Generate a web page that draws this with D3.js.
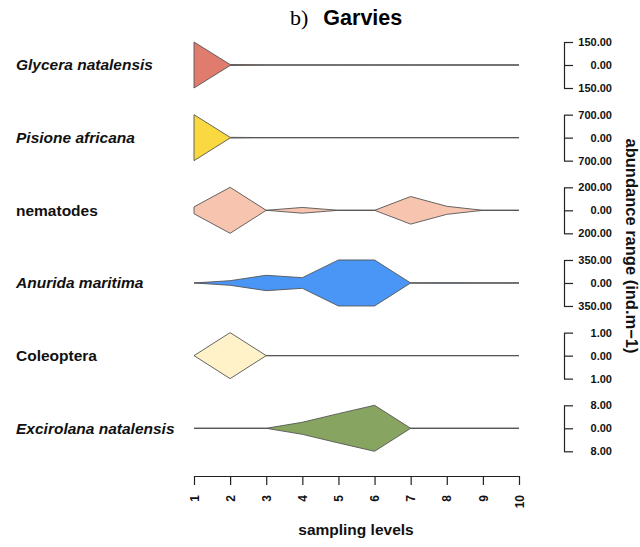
<!DOCTYPE html>
<html>
<head>
<meta charset="utf-8">
<script src="https://d3js.org/d3.v7.min.js"></script>
<style>
  body { margin: 0; background: #fff; }
  svg text { font-family: "Liberation Sans", Arial, sans-serif; }
</style>
</head>
<body>
<div id="chart"></div>
<script>
// species shown top to bottom
var species = ["Glycera natalensis", "Pisione africana", "nematodes",
               "Anurida maritima", "Coleoptera", "Excirolana natalensis"];
var italic = [true, true, false, true, false, true];
var levels = [1, 2, 3, 4, 5, 6, 7, 8, 9, 10];
// abundance (ind.m-1) at each sampling level
var glycera    = [150, 3, 0.6, 0, 0, 0, 0, 0, 0, 0];
var pisione    = [700, 10, 2, 0, 0, 0, 0, 0, 0, 0];
var nematodes  = [30, 200, 0, 25, 0, 0, 120, 35, 0, 0];
var anurida    = [0, 35, 117, 81, 350, 350, 0, 3, 0.6, 0];
var coleoptera = [0, 1, 0, 0, 0, 0, 0, 0, 0, 0];
var excirolana = [0, 0, 0, 2.1, 5.1, 8, 0, 0, 0, 0];
var series = [glycera, pisione, nematodes, anurida, coleoptera, excirolana];
// max of each row's right-hand axis
var ranges = [150, 700, 200, 350, 1, 8];
var colors = ["#e07c6e", "#fad840", "#f7c5af", "#4a96f7", "#fff2c8", "#87a560"];

var width = 640, height = 547;
var half = 23; // half height of a row

var svg = d3.select("#chart").append("svg")
    .attr("width", width)
    .attr("height", height);

var x = d3.scaleLinear().domain([1, 10]).range([194, 519]);
var row = d3.scalePoint().domain(species).range([65, 428.3]);

// title
var title = svg.append("text").attr("x", 290).attr("y", 25);
title.append("tspan")
    .style("font-family", "'Liberation Serif', 'Times New Roman', serif")
    .attr("font-size", "22px")
    .text("b)");
title.append("tspan")
    .attr("dx", 15)
    .attr("font-size", "21.5px")
    .attr("font-weight", "bold")
    .text("Garvies");

species.forEach(function (name, i) {
    var cy = row(name);
    var s = d3.scaleLinear().domain([-ranges[i], ranges[i]]).range([cy + half, cy - half]);

    // base line
    svg.append("line")
        .attr("x1", x(1)).attr("x2", x(10))
        .attr("y1", cy).attr("y2", cy)
        .attr("stroke", "#777")
        .attr("stroke-width", 1);

    var area = d3.area()
        .x(function (d, j) { return x(levels[j]); })
        .y0(function (d) { return s(-d); })
        .y1(function (d) { return s(d); });

    svg.append("path")
        .datum(series[i])
        .attr("d", area)
        .attr("fill", colors[i])
        .attr("stroke", "#555")
        .attr("stroke-width", 0.9)
        .attr("stroke-linejoin", "round");

    // species label
    svg.append("text")
        .attr("x", 16)
        .attr("y", cy)
        .attr("dy", "0.35em")
        .attr("font-size", "15.5px")
        .attr("font-weight", "bold")
        .attr("font-style", italic[i] ? "italic" : "normal")
        .attr("fill", "#111")
        .text(name);

    // right axis for this row
    var ax = svg.append("g")
        .attr("transform", "translate(564,0)")
        .call(d3.axisRight(s)
            .tickValues([ranges[i], 0, -ranges[i]])
            .tickSize(9)
            .tickSizeOuter(0)
            .tickFormat(function (d) { return Math.abs(d).toFixed(2); }));
    ax.select(".domain").attr("stroke", "#222").attr("stroke-width", 1.2);
    ax.selectAll(".tick line").attr("stroke", "#222").attr("stroke-width", 1.2);
    ax.selectAll(".tick text")
        .attr("x", 48)
        .attr("text-anchor", "end")
        .attr("font-size", "11px")
        .attr("font-weight", "bold")
        .attr("font-family", "'Liberation Sans', Arial, sans-serif")
        .attr("fill", "#111");
});

// bottom axis
var bx = svg.append("g")
    .attr("transform", "translate(0,476)")
    .call(d3.axisBottom(x)
        .tickValues(levels)
        .tickSize(9)
        .tickSizeOuter(0)
        .tickFormat(d3.format("d")));
bx.select(".domain").attr("stroke", "#222").attr("stroke-width", 1.2);
bx.selectAll(".tick line").attr("stroke", "#222").attr("stroke-width", 1.2);
bx.selectAll(".tick text")
    .attr("transform", "rotate(-90)")
    .attr("x", -19)
    .attr("y", 0)
    .attr("dy", "0.35em")
    .attr("text-anchor", "end")
    .attr("font-size", "12px")
    .attr("font-weight", "bold")
    .attr("font-family", "'Liberation Sans', Arial, sans-serif")
    .attr("fill", "#111");

svg.append("text")
    .attr("x", 356)
    .attr("y", 535)
    .attr("text-anchor", "middle")
    .attr("font-size", "15.5px")
    .attr("font-weight", "bold")
    .attr("fill", "#111")
    .text("sampling levels");

svg.append("text")
    .attr("transform", "translate(626,246) rotate(90)")
    .attr("text-anchor", "middle")
    .attr("font-size", "16.5px")
    .attr("font-weight", "bold")
    .attr("fill", "#111")
    .text("abundance range (ind.m\u22121)");
</script>
</body>
</html>
